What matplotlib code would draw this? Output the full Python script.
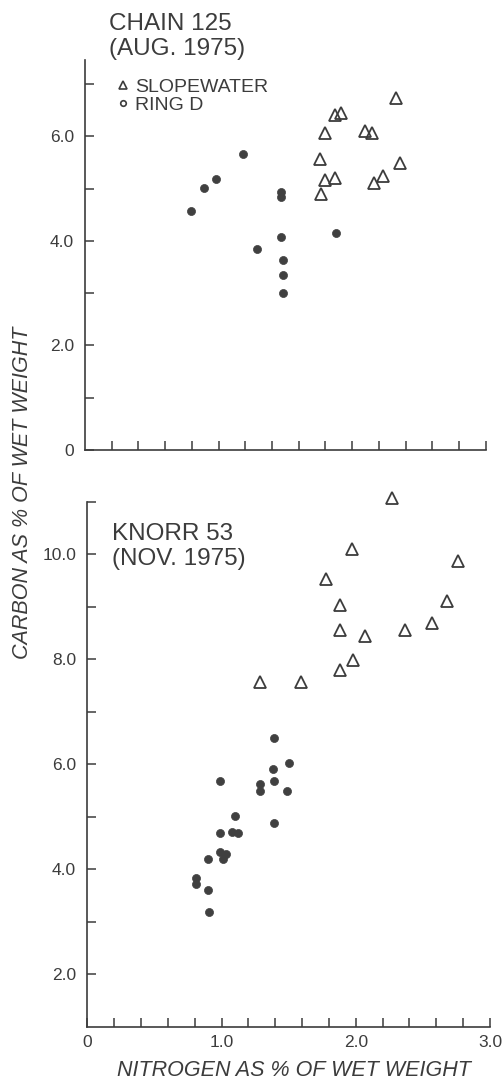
import numpy as np
import matplotlib
matplotlib.use("Agg")
import matplotlib.pyplot as plt
from matplotlib.lines import Line2D

# Chain 125 (Aug. 1975) - nitrogen / carbon as % of wet weight
chain_ring_n = [0.79, 0.89, 0.98, 1.18, 1.47, 1.47, 1.88, 1.47, 1.29, 1.48, 1.48, 1.48]
chain_ring_c = [4.57, 5.02, 5.19, 5.66, 4.94, 4.84, 4.16, 4.07, 3.84, 3.64, 3.35, 3.00]

chain_slope_n = [2.33, 1.87, 1.92, 1.80, 2.10, 2.15, 1.76, 2.36, 1.80, 1.87, 2.23, 2.16, 1.77]
chain_slope_c = [6.74, 6.41, 6.44, 6.07, 6.10, 6.06, 5.56, 5.49, 5.16, 5.21, 5.24, 5.10, 4.89]

# Knorr 53 (Nov. 1975)
knorr_slope_n = [2.27, 1.97, 2.76, 1.78, 1.88, 2.68, 1.88, 2.37, 2.57, 2.07, 1.98, 1.88, 1.29, 1.59]
knorr_slope_c = [11.07, 10.10, 9.88, 9.53, 9.04, 9.11, 8.57, 8.57, 8.70, 8.45, 7.98, 7.80, 7.56, 7.57]

knorr_ring_n = [1.39, 1.50, 1.38, 0.99, 1.39, 1.29, 1.29, 1.49, 1.10, 1.39, 0.99,
                1.08, 1.12, 0.99, 1.03, 1.01, 0.90, 0.81, 0.81, 0.90, 0.91]
knorr_ring_c = [6.51, 6.02, 5.92, 5.69, 5.69, 5.62, 5.50, 5.50, 5.02, 4.88, 4.70,
                4.72, 4.70, 4.33, 4.29, 4.19, 4.19, 3.84, 3.72, 3.61, 3.18]

x_major = [0, 1, 2, 3]
x_major_labels = ["0", "1.0", "2.0", "3.0"]
top_y_major = [0, 2, 4, 6]
top_y_labels = ["0", "2.0", "4.0", "6.0"]
bot_y_major = [2, 4, 6, 8, 10]
bot_y_labels = ["2.0", "4.0", "6.0", "8.0", "10.0"]

INK = "#3c3c3c"
W, H = 504, 1083

plt.rcParams["font.family"] = ["Liberation Sans", "DejaVu Sans"]
plt.rcParams["text.color"] = INK


def px(x, y):
    """pixel position (from top-left) -> figure fraction"""
    return x / W, 1 - y / H


def style_axes(ax):
    for side in ["top", "right"]:
        ax.spines[side].set_visible(False)
    for side in ["left", "bottom"]:
        ax.spines[side].set_linewidth(1.2)
        ax.spines[side].set_color(INK)
    ax.tick_params(which="both", direction="in", length=6.5, width=1.1,
                   color=INK, labelcolor=INK, labelsize=12.5)
    ax.tick_params(axis="y", which="both", pad=8)
    ax.tick_params(axis="x", which="both", pad=6)
    ax.set_xlim(0, 3.0)


def draw_points(ax, ring_n, ring_c, slope_n, slope_c):
    ax.plot(slope_n, slope_c, ls="none", marker="^", ms=8, mfc="none",
            mec=INK, mew=1.3, clip_on=False)
    ax.plot(ring_n, ring_c, ls="none", marker="o", ms=5.8, mfc="#404040",
            mec="#404040", mew=0.5, clip_on=False)


fig = plt.figure(figsize=(W / 100, H / 100), dpi=100)

# top panel: Chain 125
ax1 = fig.add_axes([85 / W, 633 / H, 400.7 / W, 390 / H])
style_axes(ax1)
ax1.set_ylim(0, 7.46)
ax1.set_xticks(np.arange(0.2, 3.01, 0.2))
ax1.set_xticklabels([])
ax1.set_yticks(top_y_major)
ax1.set_yticklabels(top_y_labels)
ax1.set_yticks([1, 3, 5, 7], minor=True)
draw_points(ax1, chain_ring_n, chain_ring_c, chain_slope_n, chain_slope_c)

handles = [
    Line2D([], [], ls="none", marker="^", ms=5.5, mfc="none", mec=INK, mew=1.2),
    Line2D([], [], ls="none", marker="o", ms=4, mfc="none", mec=INK, mew=1.2),
]
fig.legend(handles, ["SLOPEWATER", "RING D"], loc="upper left",
           bbox_to_anchor=px(117, 78), frameon=False, fontsize=14,
           borderpad=0, borderaxespad=0, handlelength=0.6,
           handletextpad=0.32, labelspacing=0.05, labelcolor=INK)

fig.text(*px(109, 29.5), "CHAIN 125", fontsize=17.5, va="baseline", ha="left")
fig.text(*px(109, 55.5), "(AUG. 1975)", fontsize=17.5, va="baseline", ha="left")

# bottom panel: Knorr 53
ax2 = fig.add_axes([87.3 / W, 56.3 / H, 402.7 / W, 524.7 / H])
style_axes(ax2)
ax2.set_ylim(1, 11)
ax2.set_xticks(x_major)
ax2.set_xticklabels(x_major_labels)
ax2.set_xticks(np.arange(0.2, 3.0, 0.2), minor=True)
ax2.set_yticks(bot_y_major)
ax2.set_yticklabels(bot_y_labels)
ax2.set_yticks([3, 5, 7, 9, 11], minor=True)
draw_points(ax2, knorr_ring_n, knorr_ring_c, knorr_slope_n, knorr_slope_c)

fig.text(*px(112, 540), "KNORR 53", fontsize=17.5, va="baseline", ha="left")
fig.text(*px(112, 564.5), "(NOV. 1975)", fontsize=17.5, va="baseline", ha="left")

# shared axis labels
fig.text(*px(23, 493), "CARBON AS % OF WET WEIGHT", rotation=90, fontsize=15.5,
         style="italic", ha="center", va="center")
fig.text(*px(294, 1071), "NITROGEN AS % OF WET WEIGHT", fontsize=15.5,
         style="italic", ha="center", va="center")

fig.savefig("out.png", dpi=100, facecolor="white")
